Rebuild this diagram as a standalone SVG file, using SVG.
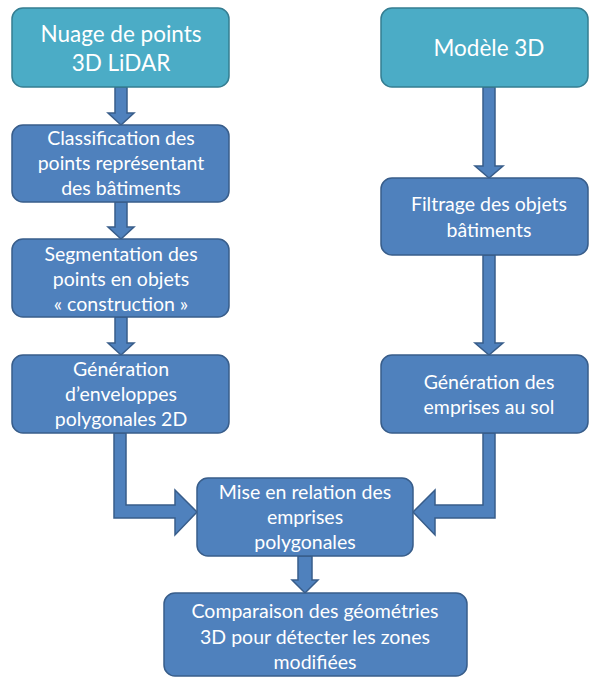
<svg xmlns="http://www.w3.org/2000/svg" width="590" height="677" viewBox="0 0 590 677">
<style>
.teal{fill:#4BACC6;stroke:#357D91;stroke-width:1.5}
.blue{fill:#4F81BD;stroke:#385D8A;stroke-width:1.5}
.arr{fill:#4F81BD;stroke:#385D8A;stroke-width:1.5;stroke-linejoin:miter}
text{font-family:Lato,"Liberation Sans",sans-serif;fill:#fff;text-anchor:middle}
.big{font-size:22.5px}
.t{font-size:19.5px}
</style>
<rect width="590" height="677" fill="#fff"/>
<g id="connectors">
<polygon class="arr" points="115,87 127,87 127,113 134,113 121,125 108,113 115,113"/>
<polygon class="arr" points="115,202 127,202 127,227 134,227 121,239 108,227 115,227"/>
<polygon class="arr" points="115,317 127,317 127,343 134,343 121,355 108,343 115,343"/>
<polygon class="arr" points="483,87 495,87 495,166 503,166 489,178 475,166 483,166"/>
<polygon class="arr" points="483,255 495,255 495,343 503,343 489,355 475,343 483,343"/>
<polygon class="arr" points="114,433 126,433 126,505 175,505 175,490 197,512 175,535 175,518 114,518"/>
<polygon class="arr" points="495,433 483,433 483,505 435,505 435,490 413,512 435,535 435,518 495,518"/>
<polygon class="arr" points="298,556 312,556 312,580 318,580 305,593 292,580 298,580"/>
</g>
<g id="n1"><rect class="teal" x="12" y="8" width="217" height="79" rx="11"/>
<text class="big" x="121" y="42">Nuage de points</text><text class="big" x="121" y="71">3D LiDAR</text></g>
<g id="n2"><rect class="blue" x="12" y="125" width="217" height="77" rx="11"/>
<text class="t" x="121" y="145">Classification des</text><text class="t" x="121" y="170">points représentant</text><text class="t" x="121" y="195">des bâtiments</text></g>
<g id="n3"><rect class="blue" x="12" y="239" width="217" height="78" rx="11"/>
<text class="t" x="121" y="261">Segmentation des</text><text class="t" x="121" y="286">points en objets</text><text class="t" x="121" y="311">« construction »</text></g>
<g id="n4"><rect class="blue" x="12" y="355" width="217" height="78" rx="11"/>
<text class="t" x="121" y="376">Génération</text><text class="t" x="121" y="401">d’enveloppes</text><text class="t" x="121" y="426">polygonales 2D</text></g>
<g id="m1"><rect class="teal" x="381" y="8" width="207" height="79" rx="11"/>
<text class="big" x="489" y="56">Modèle 3D</text></g>
<g id="m2"><rect class="blue" x="381" y="178" width="207" height="77" rx="11"/>
<text class="t" x="489" y="211">Filtrage des objets</text><text class="t" x="489" y="237">bâtiments</text></g>
<g id="m3"><rect class="blue" x="381" y="355" width="207" height="78" rx="11"/>
<text class="t" x="489" y="389">Génération des</text><text class="t" x="489" y="414">emprises au sol</text></g>
<g id="r1"><rect class="blue" x="197" y="478" width="216" height="78" rx="11"/>
<text class="t" x="305" y="499">Mise en relation des</text><text class="t" x="305" y="524">emprises</text><text class="t" x="305" y="549">polygonales</text></g>
<g id="r2"><rect class="blue" x="164" y="593" width="303" height="83" rx="11"/>
<text class="t" x="315" y="618">Comparaison des géométries</text><text class="t" x="315" y="644">3D pour détecter les zones</text><text class="t" x="315" y="669">modifiées</text></g>
</svg>
